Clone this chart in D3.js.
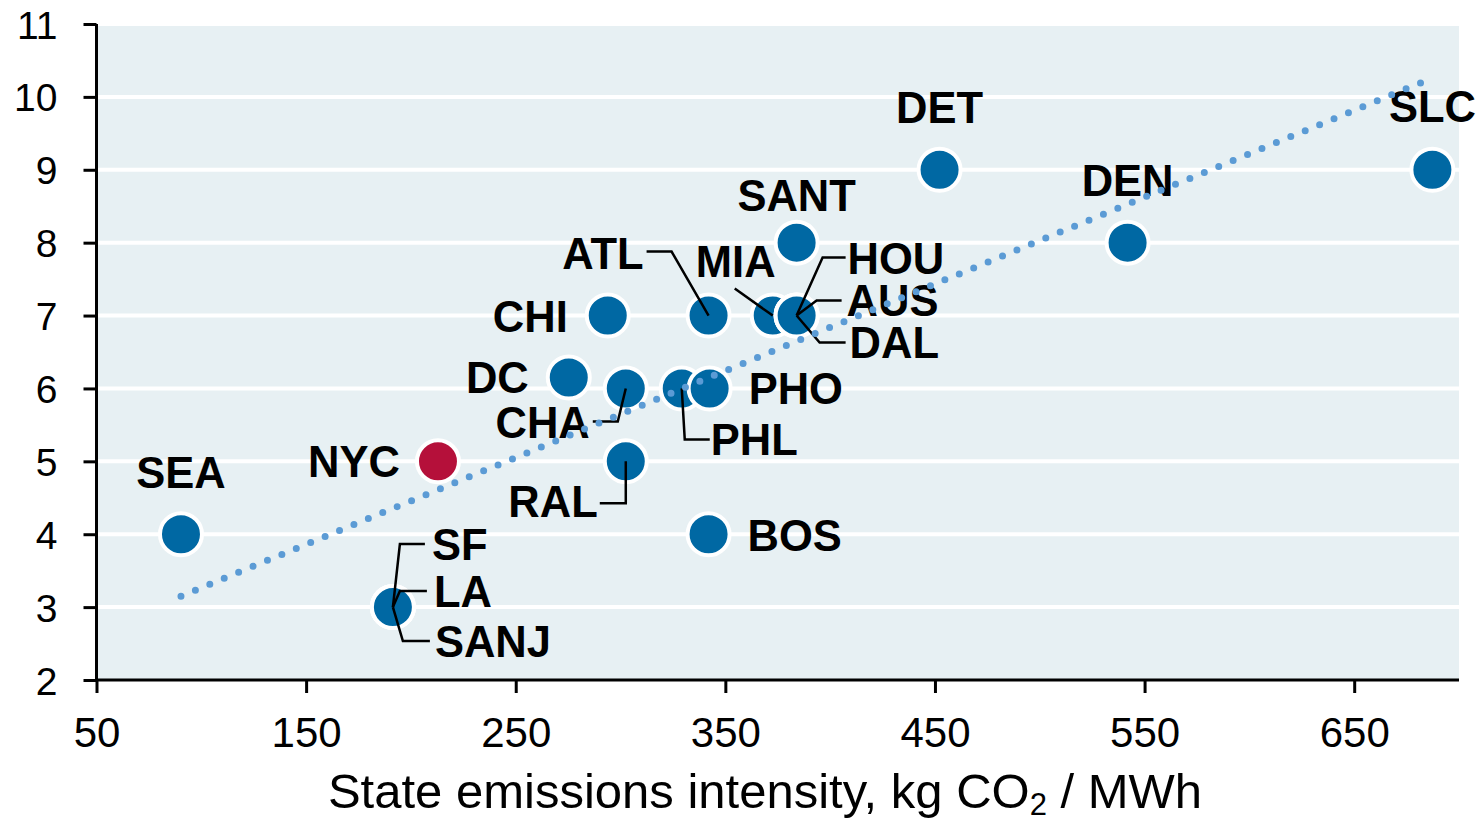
<!DOCTYPE html>
<html><head><meta charset="utf-8">
<script src="https://cdn.jsdelivr.net/npm/d3@7"></script>
<style>body{margin:0;background:#fff}svg{display:block}text{font-family:"Liberation Sans",Arial,sans-serif}</style>
</head><body><svg id="c" width="1478" height="821"></svg>
<script>
// ---- data ----
const cities   = ["SEA","NYC","SF","LA","SANJ","DC","CHI","CHA","RAL","PHL","PHO","ATL","BOS","MIA","HOU","AUS","DAL","SANT","DET","DEN","SLC"];
const emissions= [90.3, 212.9,191.4,191.4,191.4,275.3,293.9,302.5,302.5,329.2,342.5,342.0,342.0,372.6,384.0,384.0,384.0,384.0,452.2,541.9,687.3];
const scores   = [4,    5,    3,    3,    3,    6.15, 7,    6,    5,    6,    6,    7,    4,    7,    7,    7,    7,    8,    9,    8,    9];
const highlight= ["NYC"];
const trendX   = [90.3, 684];
const trendY   = [3.15, 10.22];
const xTicks   = [50,150,250,350,450,550,650];
const yTicks   = [2,3,4,5,6,7,8,9,10,11];

// ---- label layout (pixel offsets from the point; leader vertices relative to point) ----
const labelLayout = {
  SEA:{dx:0,dy:-46,a:"middle"},
  NYC:{dx:-38,dy:16,a:"end"},
  SF:{dx:39,dy:-47,a:"start",lead:[[0,0],[7,-63],[32,-63]]},
  LA:{dx:41,dy:0,a:"start",lead:[[0,0],[7,-16],[34,-16]]},
  SANJ:{dx:42,dy:50,a:"start",lead:[[0,0],[10,34],[37,34]]},
  DC:{dx:-40,dy:15,a:"end"},
  CHI:{dx:-40,dy:16,a:"end"},
  CHA:{dx:-36,dy:50,a:"end",lead:[[0,0],[-8,33],[-33,33]]},
  RAL:{dx:-28,dy:56,a:"end",lead:[[0,0],[0,42],[-26,42]]},
  PHL:{dx:29,dy:67,a:"start",lead:[[0,0],[3,51],[28,51]]},
  PHO:{dx:39,dy:16,a:"start"},
  ATL:{dx:-65,dy:-47,a:"end",lead:[[0,0],[-37,-64],[-62,-64]]},
  BOS:{dx:39,dy:17,a:"start"},
  MIA:{dx:-37,dy:-39,a:"middle",lead:[[0,0],[-38,-27]]},
  HOU:{dx:51,dy:-42,a:"start",lead:[[0,0],[26,-58],[49,-58]]},
  AUS:{dx:50,dy:0,a:"start",lead:[[0,0],[20,-15],[45,-15]]},
  DAL:{dx:53,dy:42,a:"start",lead:[[0,0],[23,27],[49,27]]},
  SANT:{dx:0,dy:-32,a:"middle"},
  DET:{dx:0,dy:-47,a:"middle"},
  DEN:{dx:0,dy:-47,a:"middle"},
  SLC:{dx:0,dy:-48,a:"middle"}
};

const svg = d3.select("#c");
const x = d3.scaleLinear().domain([50,700]).range([96.5,1459]);
const y = d3.scaleLinear().domain([2,11]).range([680,24]);

// background
svg.append("rect").attr("x",x(50)).attr("y",y(11)).attr("width",x(700)-x(50)).attr("height",y(2)-y(11)).attr("fill","#e7f0f3");
// gridlines
svg.append("g").selectAll("line").data(yTicks.filter(d=>d>2)).join("line")
  .attr("x1",x(50)).attr("x2",x(700)).attr("y1",d=>y(d)).attr("y2",d=>y(d))
  .attr("stroke","#fff").attr("stroke-width",4);

const pts = cities.map((c,i)=>({c, x:x(emissions[i]), y:y(scores[i])}));

// circles
svg.append("g").selectAll("circle").data(pts).join("circle")
  .attr("cx",d=>d.x).attr("cy",d=>d.y).attr("r",21)
  .attr("fill",d=>highlight.includes(d.c)?"#b5103a":"#0068a3")
  .attr("stroke","#fff").attr("stroke-width",4);

// labels
svg.append("g").selectAll("text").data(pts).join("text")
  .attr("x",d=>d.x+labelLayout[d.c].dx).attr("y",d=>d.y+labelLayout[d.c].dy)
  .attr("text-anchor",d=>labelLayout[d.c].a)
  .attr("font-size",43.5).attr("font-weight","bold").attr("fill","#000")
  .text(d=>d.c);

// leaders
const line = d3.line();
svg.append("g").selectAll("path").data(pts.filter(d=>labelLayout[d.c].lead)).join("path")
  .attr("d",d=>line(labelLayout[d.c].lead.map(p=>[d.x+p[0],d.y+p[1]])))
  .attr("fill","none").attr("stroke","#000").attr("stroke-width",2.5);

// trend
svg.append("path").attr("d",line(trendX.map((v,i)=>[x(v),y(trendY[i])])))
  .attr("fill","none").attr("stroke","#5b9bd5").attr("stroke-width",7)
  .attr("stroke-linecap","round").attr("stroke-dasharray","0 15.6");

// axes
const xa = svg.append("g").attr("transform",`translate(0,${y(2)})`)
  .call(d3.axisBottom(x).tickValues(xTicks).tickSize(13).tickPadding(24).tickFormat(d3.format("d")));
const ya = svg.append("g").attr("transform",`translate(${x(50)},0)`)
  .call(d3.axisLeft(y).tickValues(yTicks).tickSize(13).tickPadding(26).tickFormat(d3.format("d")));
[xa,ya].forEach(g=>{
  g.select(".domain").remove();
  g.selectAll(".tick line").attr("stroke","#000").attr("stroke-width",3);
  g.selectAll("text").attr("fill","#000").style("font-family","'Liberation Sans',Arial,sans-serif");
});
xa.selectAll("text").attr("font-size",42);
ya.selectAll("text").attr("font-size",39).attr("dy","0.36em");
svg.append("line").attr("x1",x(50)).attr("x2",x(50)).attr("y1",y(11)).attr("y2",y(2)+1.5).attr("stroke","#000").attr("stroke-width",3);
svg.append("line").attr("x1",x(50)-1.5).attr("x2",x(700)).attr("y1",y(2)).attr("y2",y(2)).attr("stroke","#000").attr("stroke-width",3);

// title
const t = svg.append("text").attr("x",765).attr("y",808).attr("text-anchor","middle").attr("font-size",49).attr("fill","#000");
t.append("tspan").text("State emissions intensity, kg CO");
t.append("tspan").attr("font-size",31).attr("dy",7).text("2");
t.append("tspan").attr("dy",-7).text(" / MWh");
</script></body></html>
